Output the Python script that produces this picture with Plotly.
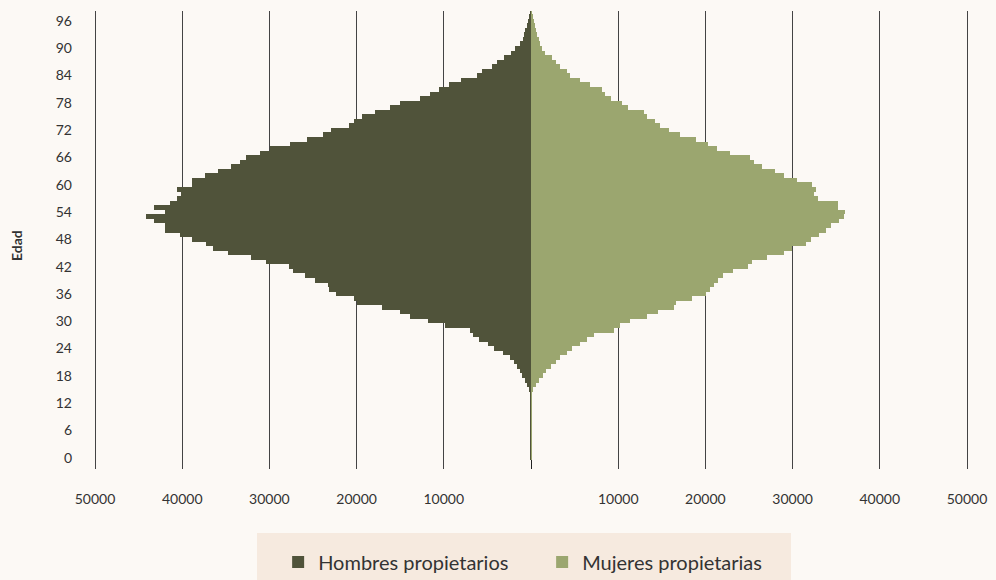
import plotly.graph_objects as go

ages = list(range(0, 99))

hombres = [60, 40, 70, 50, 60, 50, 80, 60, 70, 60,
           80, 70, 90, 80, 100, 150, 420, 690, 990, 1260,
           1640, 1950, 2400, 3250, 4240, 4890, 5920, 6600, 6990, 9920,
           11760, 13860, 15080, 17100, 19960, 20340, 22330, 23200, 23320, 24730,
           25960, 27290, 27790, 30340, 32060, 34770, 36450, 37250, 38860, 40300,
           42030, 42030, 43250, 44160, 42030, 43250, 41410, 40570, 40120, 40570,
           38930, 38930, 37410, 35880, 34390, 33320, 32670, 31030, 29960, 27670,
           25690, 23860, 22900, 20920, 20340, 19390, 17860, 16220, 15000, 12710,
           11640, 10530, 9350, 8050, 6220, 5650, 4500, 3850, 3090, 2330,
           1830, 1260, 880, 750, 690, 420, 300, 150, 80]

mujeres = [40, 30, 50, 40, 50, 40, 60, 40, 50, 40,
           60, 50, 60, 50, 70, 170, 550, 970, 1360, 1770,
           2310, 2810, 3380, 4140, 4710, 5590, 6430, 7270, 9490, 10170,
           11320, 13300, 14520, 16360, 16660, 18460, 20060, 20480, 20930, 21430,
           22000, 23110, 24940, 25400, 27040, 29070, 29900, 31500, 32120, 33020,
           33780, 34350, 35300, 35870, 36060, 35190, 35190, 32910, 32450, 32720,
           32260, 30480, 28960, 28010, 26490, 25610, 25160, 22840, 21360, 20290,
           18890, 17060, 15850, 14780, 14210, 13340, 12960, 11170, 10410, 9200,
           8510, 8130, 6730, 5590, 4450, 4140, 3380, 2810, 2360, 1560,
           1220, 1000, 900, 700, 600, 500, 340, 150, 60]

x_tickvals = [-50000, -40000, -30000, -20000, -10000, 10000, 20000, 30000, 40000, 50000]
x_ticktext = ["50000", "40000", "30000", "20000", "10000", "10000", "20000", "30000", "40000", "50000"]
y_tickvals = list(range(0, 97, 6))

# plot area geometry (pixels)
L, R, T, B = 93, 969, 11, 469
PX_PER_UNIT = (967 - 95) / 100000.0
XMIN = -50000 - (95 - L) / PX_PER_UNIT
XMAX = 50000 + (R - 967) / PX_PER_UNIT
W, H = R - L, B - T

def px(xpix):
    return (xpix - L) / W

def py(ypix):
    return (B - ypix) / H

fig = go.Figure()
fig.add_trace(go.Bar(
    y=ages, x=[-v for v in hombres], orientation="h",
    name="Hombres propietarios", marker=dict(color="#50533A", line=dict(width=0)),
))
fig.add_trace(go.Bar(
    y=ages, x=mujeres, orientation="h",
    name="Mujeres propietarias", marker=dict(color="#9BA66F", line=dict(width=0)),
))

fig.update_layout(
    width=996, height=580,
    margin=dict(l=L, r=996 - R, t=T, b=580 - B, autoexpand=False),
    paper_bgcolor="#FCF9F5", plot_bgcolor="#FCF9F5",
    barmode="overlay", bargap=0,
    font=dict(family="Lato", color="#333333"),
    xaxis=dict(range=[XMIN, XMAX], tickvals=x_tickvals, ticktext=x_ticktext,
               showgrid=True, gridcolor="#444444", gridwidth=1,
               zeroline=True, zerolinecolor="#222222", zerolinewidth=1,
               showline=False, ticks="", tickfont=dict(size=14, color="#333333"),
               ticklabelstandoff=20, automargin=False, fixedrange=True),
    yaxis=dict(range=[-2.5, 98.2], tickvals=y_tickvals, showgrid=False, zeroline=False,
               showline=False, ticks="", tickfont=dict(size=14, color="#333333"),
               ticklabelstandoff=20, automargin=False),
    legend=dict(orientation="h", x=px(265) + 0.015, xanchor="left", y=py(562), yanchor="middle",
                bgcolor="rgba(0,0,0,0)", font=dict(size=20, color="#333333"),
                entrywidth=219, entrywidthmode="pixels"),
    shapes=[dict(type="rect", xref="paper", yref="paper",
                 x0=px(257), x1=px(791), y0=py(533), y1=py(585),
                 fillcolor="#F6EADF", line=dict(width=0), layer="below")],
    annotations=[dict(text="<b>Edad</b>", xref="paper", yref="paper",
                      x=px(17), y=py(246), textangle=-90,
                      showarrow=False, font=dict(size=14, color="#333333"),
                      xanchor="center", yanchor="middle")],
)

fig.write_html("out.html", config={"displayModeBar": False},
               post_script="document.body.style.margin='0';document.body.style.overflow='hidden';")
